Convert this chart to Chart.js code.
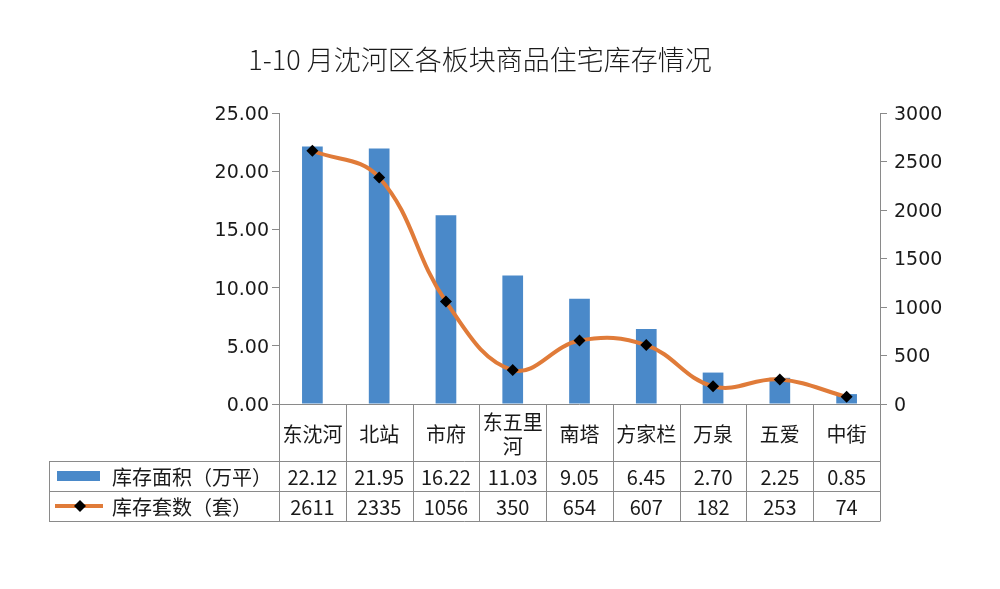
<!DOCTYPE html>
<html>
<head>
<meta charset="utf-8">
<script src="https://cdn.jsdelivr.net/npm/chart.js@4/dist/chart.umd.min.js"></script>
<style>
  html,body{margin:0;padding:0;background:#fff;}
  #wrap{width:1000px;height:589px;position:relative;}
</style>
</head>
<body>
<div id="wrap"><canvas id="c" width="1000" height="589"></canvas></div>
<script>
const chartTitle = '1-10 月沈河区各板块商品住宅库存情况';
const categories = ['东沈河','北站','市府','东五里河','南塔','方家栏','万泉','五爱','中街'];
const categoryLines = [['东沈河'],['北站'],['市府'],['东五里','河'],['南塔'],['方家栏'],['万泉'],['五爱'],['中街']];
const areaName = '库存面积（万平）';
const unitName = '库存套数（套）';
const areaValues = [22.12, 21.95, 16.22, 11.03, 9.05, 6.45, 2.70, 2.25, 0.85];
const unitValues = [2611, 2335, 1056, 350, 654, 607, 182, 253, 74];
const leftTicks = [0, 5, 10, 15, 20, 25];
const rightTicks = [0, 500, 1000, 1500, 2000, 2500, 3000];

const FONT = '"Noto Sans CJK SC", "Noto Sans", sans-serif';
const TICK_FONT = '"DejaVu Sans", sans-serif';
const BAR_COLOR = '#4a89c9';
const LINE_COLOR = '#e07b39';
const AXIS_COLOR = '#8a8a8a';
const TEXT_COLOR = '#1a1a1a';

const tablePlugin = {
  id: 'tablePlugin',
  afterDraw(chart) {
    const ctx = chart.ctx;
    const x = chart.scales.x;
    const area = chart.chartArea;
    const n = categories.length;
    const cw = (area.right - area.left) / n;
    const top = area.bottom;
    const row1b = top + 57;
    const row2b = row1b + 30;
    const row3b = row2b + 30;
    const tableLeft = 49;

    ctx.save();
    // title
    ctx.fillStyle = TEXT_COLOR;
    ctx.font = '300 27px ' + FONT;
    ctx.textAlign = 'center';
    ctx.textBaseline = 'middle';
    ctx.fillText(chartTitle, 480, 60);

    // grid lines
    ctx.strokeStyle = AXIS_COLOR;
    ctx.lineWidth = 1;
    ctx.beginPath();
    for (let k = 0; k <= n; k++) {
      const xx = Math.round(area.left + k * cw) + 0.5;
      ctx.moveTo(xx, top);
      ctx.lineTo(xx, row3b);
    }
    [row1b, row2b, row3b].forEach(yy => {
      ctx.moveTo(tableLeft, Math.round(yy) + 0.5);
      ctx.lineTo(area.right + 0.5, Math.round(yy) + 0.5);
    });
    ctx.moveTo(tableLeft + 0.5, row1b);
    ctx.lineTo(tableLeft + 0.5, row3b);
    // x axis line
    ctx.moveTo(area.left, Math.round(top) + 0.5);
    ctx.lineTo(area.right, Math.round(top) + 0.5);
    ctx.stroke();

    // category labels
    ctx.font = '20px ' + FONT;
    ctx.fillStyle = TEXT_COLOR;
    categories.forEach((c, i) => {
      const cx = x.getPixelForValue(i);
      const lines = categoryLines[i];
      if (lines.length === 1) {
        ctx.fillText(lines[0], cx, top + 30);
      } else {
        ctx.fillText(lines[0], cx, top + 18);
        ctx.fillText(lines[1], cx, top + 42);
      }
      ctx.fillText(areaValues[i].toFixed(2), cx, (row1b + row2b) / 2 + 1);
      ctx.fillText(String(unitValues[i]), cx, (row2b + row3b) / 2 + 1);
    });

    // legend keys
    const y2 = (row1b + row2b) / 2;
    const y3 = (row2b + row3b) / 2;
    ctx.fillStyle = BAR_COLOR;
    ctx.fillRect(57, y2 - 5, 43, 10);
    ctx.strokeStyle = LINE_COLOR;
    ctx.lineWidth = 4;
    ctx.beginPath();
    ctx.moveTo(55, y3);
    ctx.lineTo(103, y3);
    ctx.stroke();
    ctx.fillStyle = '#000';
    ctx.beginPath();
    ctx.moveTo(80, y3 - 6);
    ctx.lineTo(86, y3);
    ctx.lineTo(80, y3 + 6);
    ctx.lineTo(74, y3);
    ctx.closePath();
    ctx.fill();
    ctx.fillStyle = TEXT_COLOR;
    ctx.textAlign = 'left';
    ctx.fillText(areaName, 112, y2 + 1);
    ctx.fillText(unitName, 112, y3 + 1);
    ctx.restore();
  }
};

new Chart(document.getElementById('c'), {
  data: {
    labels: categories,
    datasets: [
      {
        type: 'line',
        label: unitName,
        data: unitValues,
        yAxisID: 'y1',
        borderColor: LINE_COLOR,
        borderWidth: 4,
        tension: 0.4,
        pointStyle: 'rectRot',
        pointRadius: 6,
        pointBackgroundColor: '#000',
        pointBorderColor: '#000',
        pointBorderWidth: 0,
        order: 0
      },
      {
        type: 'bar',
        label: areaName,
        data: areaValues,
        yAxisID: 'y',
        backgroundColor: BAR_COLOR,
        categoryPercentage: 1,
        barPercentage: 0.31,
        order: 1
      }
    ]
  },
  options: {
    responsive: false,
    animation: false,
    layout: { padding: { top: 113, bottom: 185, left: 0, right: 0 } },
    plugins: { legend: { display: false }, title: { display: false }, tooltip: { enabled: false } },
    scales: {
      x: { display: false, offset: true },
      y: {
        position: 'left',
        min: 0, max: 25,
        afterFit(s) { s.width = 279; },
        afterBuildTicks(s) { s.ticks = leftTicks.map(v => ({ value: v })); },
        border: { display: true, color: AXIS_COLOR, width: 1 },
        grid: { drawOnChartArea: false, drawTicks: true, tickLength: 7, color: AXIS_COLOR },
        ticks: { padding: 3, labelOffset: 2, color: TEXT_COLOR, font: { family: TICK_FONT, size: 19 }, callback: v => Number(v).toFixed(2) }
      },
      y1: {
        position: 'right',
        min: 0, max: 3000,
        afterFit(s) { s.width = 120; },
        afterBuildTicks(s) { s.ticks = rightTicks.map(v => ({ value: v })); },
        border: { display: true, color: AXIS_COLOR, width: 1 },
        grid: { drawOnChartArea: false, drawTicks: true, tickLength: 7, color: AXIS_COLOR },
        ticks: { padding: 7, labelOffset: 2, color: TEXT_COLOR, font: { family: TICK_FONT, size: 19 }, callback: v => String(v) }
      }
    }
  },
  plugins: [tablePlugin]
});
</script>
</body>
</html>
